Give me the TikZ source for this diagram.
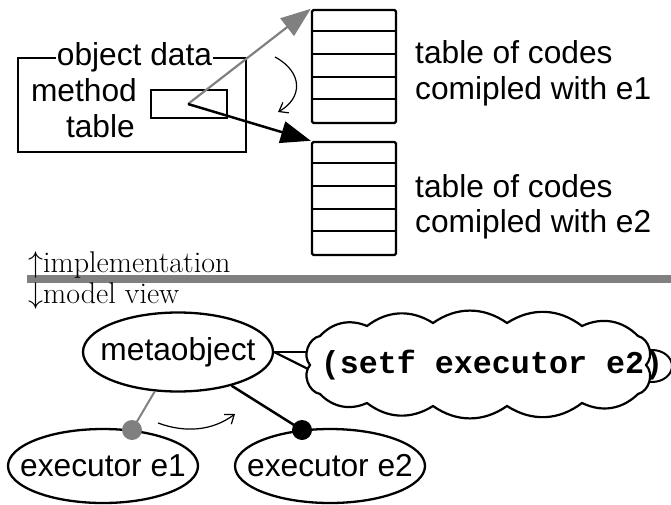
\RequirePackage{fix-cm}
\documentclass[tikz,border=0pt]{standalone}
\usepackage{fontspec}
\setsansfont{Liberation Sans}
\newfontfamily\codefont{Liberation Mono}
\usetikzlibrary{arrows.meta,shapes.geometric}

\begin{document}
\begin{tikzpicture}[x=1pt,y=-1pt,
  lbl/.style={font=\sffamily\fontsize{31.7}{38}\selectfont, inner sep=0pt},
  note/.style={font=\fontsize{30}{36}\selectfont, inner sep=0pt},
  frame/.style={draw, line width=2.4pt, inner sep=0pt},
  oval/.style={ellipse, draw, line width=2.3pt, inner sep=0pt, minimum width=190pt},
  codetable/.style={draw, line width=2.4pt, minimum width=84pt, minimum height=113pt,
                    inner sep=0pt, rounded corners=1.5pt},
  rowline/.style={line width=2pt},
  dot/.style={circle, inner sep=0pt, minimum size=20pt},
  link/.style={line width=2.5pt},
  thin arrow/.style={line width=1.2pt, -{Straight Barb[length=8pt,width=12pt]}},
  big tip/.style={-{Triangle[length=30pt,width=22pt]}},
  puff/.style={bend left=35},
  endpuff/.style={bend left=60},
  ]
\useasboundingbox (0,0) rectangle (671,505);

% ---------- implementation: object data and its method table ----------
\node[frame, minimum width=228pt, minimum height=94pt] (objbox) at (132,105) {};
\node[lbl, fill=white, inner xsep=1pt, anchor=base] (objtitle) at (134.5,66) {object data};
\node[lbl, anchor=base east] (mlabel) at (137,102) {method};
\node[lbl, anchor=base east] (tlabel) at (135,138) {table};
\node[frame, minimum width=76pt, minimum height=28pt] (mtab) at (189,104) {};
\coordinate (src) at (188,104);

% ---------- the two tables of compiled codes ----------
\node[codetable] (t1) at (354,66.5) {};
\node[codetable] (t2) at (354,198.5) {};
\foreach \t in {t1,t2}{
  \foreach \k in {1,...,4}{
    \draw[rowline] ([yshift=-\k*22.6pt]\t.north west) -- ([yshift=-\k*22.6pt]\t.north east);
  }
}
\node[lbl, anchor=base west] (cap1a) at (415,64) {table of codes};
\node[lbl, anchor=base west] (cap1b) at (415,100) {comipled with e1};
\node[lbl, anchor=base west] (cap2a) at (415,197) {table of codes};
\node[lbl, anchor=base west] (cap2b) at (415,232) {comipled with e2};

% pointers from the method table
\draw[link, gray, line width=2.2pt, big tip] (src) -- (t1.north west);
\draw[link, big tip] (src) -- (t2.north west);
\coordinate (sw1) at (275,57);
\coordinate (sw2) at (278,112);
\draw[thin arrow] (sw1) .. controls (303,72) and (303,98) .. (sw2);

% ---------- divider between the two views ----------
\coordinate (divL) at (27,279);
\coordinate (divR) at (671,279);
\draw[gray, line width=8pt] (divL) -- (divR);
\node[note, anchor=base west] (upnote) at (28,272) {$\uparrow$implementation};
\node[note, anchor=base west] (downnote) at (28,303) {$\downarrow$model view};

% ---------- model view ----------
\node[oval, minimum height=79pt, label={[lbl]center:metaobject}] (mo) at (178,352) {};
\node[oval, minimum height=74pt, label={[lbl]center:executor e1}] (e1) at (103,466) {};
\node[oval, minimum height=74pt, label={[lbl]center:executor e2}] (e2) at (330,466) {};

\node[dot] (d1) at (132,430) {};
\node[dot] (d2) at (302,430) {};
\draw[gray, line width=2pt] (mo) -- (d1.center);
\draw[link] (mo) -- (d2.center);
\node[dot, fill=gray] at (d1) {};
\node[dot, fill=black] at (d2) {};

\coordinate (sw3) at (158,423);
\coordinate (sw4) at (235,414);
\draw[thin arrow] (sw3) .. controls (185,433) and (212,431) .. (sw4);

% speech cloud with its wedge pointing at the metaobject
\coordinate (cw1) at (318,352);
\coordinate (cw2) at (318,374);
\draw[line width=2.2pt] (mo.east) -- (cw1);
\draw[line width=2.2pt] (mo.east) -- (cw2);
\node[ellipse, draw, fill=white, line width=2pt, minimum width=40pt, minimum height=32pt] (lobe) at (652,366) {};
\draw[line width=2.2pt, fill=white]
  (320,336) to[puff] (367,326) to[puff] (433,323) to[puff] (507,323)
  to[puff] (582,326) to[puff] (638,336) to[endpuff] (646,365)
  to[endpuff] (638,394) to[puff] (582,403) to[puff] (507,406)
  to[puff] (433,406) to[puff] (367,403) to[puff] (320,394)
  to[endpuff] (310,365) to[endpuff] (320,336) -- cycle;
\coordinate (cl) at (478,365);
\node[font=\codefont\bfseries\fontsize{31.7}{38}\selectfont, inner sep=0pt] (code) at (492,365) {(setf executor e2)};
\end{tikzpicture}
\end{document}
